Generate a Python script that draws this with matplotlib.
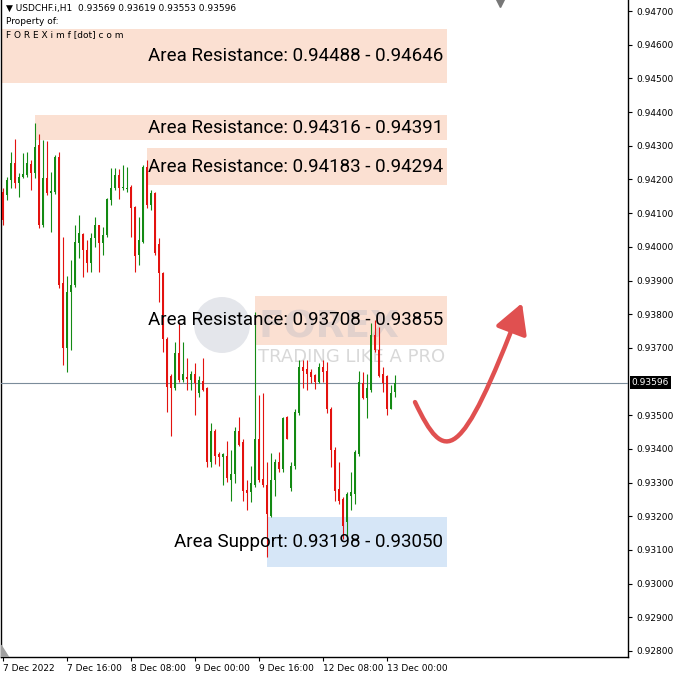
import matplotlib
matplotlib.use("Agg")
import matplotlib.pyplot as plt
from matplotlib.patches import Rectangle, FancyArrowPatch, Ellipse, ArrowStyle
from matplotlib.path import Path

# ---------------- data (USDCHF H1)
opens = [0.94163, 0.94154, 0.94199, 0.94249, 0.94190, 0.94208, 0.94214, 0.94246, 0.94220, 0.94303,
         0.94066, 0.94205, 0.94160, 0.94163, 0.94267, 0.93893, 0.93701, 0.93867, 0.93888, 0.94012,
         0.94039, 0.93991, 0.93953, 0.94027, 0.94066, 0.94012, 0.94036, 0.94140, 0.94175, 0.94214,
         0.94175, 0.94172, 0.94178, 0.94119, 0.93977, 0.94015, 0.94238, 0.94125, 0.94160, 0.94009,
         0.93923, 0.93725, 0.93615, 0.93582, 0.93686, 0.93606, 0.93612, 0.93606, 0.93621, 0.93567,
         0.93603, 0.93582, 0.93360, 0.93452, 0.93384, 0.93375, 0.93378, 0.93309, 0.93324, 0.93452,
         0.93419, 0.93277, 0.93271, 0.93294, 0.93428, 0.93312, 0.93294, 0.93200, 0.93309, 0.93360,
         0.93339, 0.93496, 0.93285, 0.93348, 0.93508, 0.93642, 0.93636, 0.93627, 0.93618, 0.93600,
         0.93642, 0.93630, 0.93517, 0.93398, 0.93280, 0.93250, 0.93182, 0.93259, 0.93265, 0.93384,
         0.93597, 0.93552, 0.93576, 0.93739, 0.93695, 0.93621, 0.93615, 0.93517, 0.93569]
highs = [0.94175, 0.94208, 0.94282, 0.94321, 0.94220, 0.94279, 0.94282, 0.94258, 0.94368, 0.94335,
         0.94318, 0.94315, 0.94223, 0.94273, 0.94282, 0.94030, 0.93914, 0.93962, 0.94066, 0.94095,
         0.94042, 0.94021, 0.94042, 0.94089, 0.94066, 0.94060, 0.94146, 0.94235, 0.94235, 0.94232,
         0.94244, 0.94238, 0.94184, 0.94122, 0.94089, 0.94244, 0.94258, 0.94169, 0.94163, 0.94027,
         0.93926, 0.93731, 0.93621, 0.93716, 0.93778, 0.93716, 0.93671, 0.93630, 0.93656, 0.93615,
         0.93671, 0.93585, 0.93478, 0.93458, 0.93392, 0.93389, 0.93422, 0.93398, 0.93464, 0.93496,
         0.93428, 0.93309, 0.93348, 0.93807, 0.93561, 0.93567, 0.93360, 0.93389, 0.93369, 0.93392,
         0.93496, 0.93499, 0.93360, 0.93517, 0.93665, 0.93665, 0.93665, 0.93636, 0.93621, 0.93656,
         0.93665, 0.93659, 0.93523, 0.93407, 0.93360, 0.93256, 0.93271, 0.93330, 0.93398, 0.93630,
         0.93627, 0.93621, 0.93775, 0.93784, 0.93763, 0.93642, 0.93618, 0.93591, 0.93619]
lows = [0.94066, 0.94140, 0.94175, 0.94175, 0.94148, 0.94205, 0.94208, 0.94169, 0.94205, 0.94057,
        0.94060, 0.94154, 0.94045, 0.94157, 0.93879, 0.93650, 0.93627, 0.93695, 0.93882, 0.93968,
        0.93911, 0.93926, 0.93926, 0.94000, 0.93926, 0.93977, 0.94030, 0.94125, 0.94169, 0.94143,
        0.94169, 0.94163, 0.94030, 0.93926, 0.93947, 0.94012, 0.94116, 0.94110, 0.93977, 0.93837,
        0.93689, 0.93511, 0.93437, 0.93576, 0.93600, 0.93600, 0.93576, 0.93576, 0.93502, 0.93555,
        0.93573, 0.93345, 0.93345, 0.93354, 0.93348, 0.93294, 0.93303, 0.93244, 0.93300, 0.93410,
        0.93244, 0.93220, 0.93241, 0.93288, 0.93303, 0.93288, 0.93080, 0.93197, 0.93259, 0.93330,
        0.93330, 0.93428, 0.93274, 0.93339, 0.93502, 0.93582, 0.93576, 0.93597, 0.93579, 0.93597,
        0.93600, 0.93508, 0.93345, 0.93244, 0.93235, 0.93131, 0.93131, 0.93220, 0.93235, 0.93378,
        0.93547, 0.93493, 0.93570, 0.93689, 0.93612, 0.93570, 0.93502, 0.93517, 0.93553]
closes = [0.94080, 0.94199, 0.94249, 0.94190, 0.94208, 0.94217, 0.94249, 0.94220, 0.94297, 0.94066,
          0.94205, 0.94160, 0.94166, 0.94267, 0.93888, 0.93701, 0.93867, 0.93888, 0.94015, 0.94042,
          0.93991, 0.93953, 0.94027, 0.94066, 0.94012, 0.94036, 0.94143, 0.94175, 0.94214, 0.94175,
          0.94178, 0.94175, 0.94116, 0.93974, 0.94021, 0.94238, 0.94125, 0.94160, 0.93982, 0.93923,
          0.93725, 0.93585, 0.93582, 0.93686, 0.93606, 0.93621, 0.93609, 0.93621, 0.93597, 0.93606,
          0.93576, 0.93360, 0.93452, 0.93378, 0.93375, 0.93384, 0.93315, 0.93324, 0.93452, 0.93413,
          0.93274, 0.93268, 0.93300, 0.93428, 0.93309, 0.93294, 0.93206, 0.93309, 0.93360, 0.93339,
          0.93493, 0.93428, 0.93348, 0.93511, 0.93642, 0.93630, 0.93621, 0.93612, 0.93600, 0.93642,
          0.93627, 0.93517, 0.93398, 0.93274, 0.93244, 0.93170, 0.93265, 0.93271, 0.93392, 0.93600,
          0.93552, 0.93582, 0.93739, 0.93695, 0.93615, 0.93597, 0.93517, 0.93567, 0.93596]

tick_bars = [0, 16, 32, 48, 64, 80, 96]
tick_labels = ["7 Dec 2022", "7 Dec 16:00", "8 Dec 08:00", "9 Dec 00:00",
               "9 Dec 16:00", "12 Dec 08:00", "13 Dec 00:00"]

# zones: low, high, bar where the box starts
zone_lo = [0.94488, 0.94316, 0.94183, 0.93708, 0.93050]
zone_hi = [0.94646, 0.94391, 0.94294, 0.93855, 0.93198]
zone_start = [-1, 8, 36, 63, 66]
zone_text = ["Area Resistance: 0.94488 - 0.94646",
             "Area Resistance: 0.94316 - 0.94391",
             "Area Resistance: 0.94183 - 0.94294",
             "Area Resistance: 0.93708 - 0.93855",
             "Area Support: 0.93198 - 0.93050"]
zone_kind = ["res", "res", "res", "res", "sup"]
zone_end = 111

last_price = 0.93596

# ---------------- figure
fig = plt.figure(figsize=(6.76, 6.74), dpi=100)
ax = fig.add_axes([1 / 676, 17 / 674, 627 / 676, 657 / 674])
ax.set_xlim(-0.5, 156.25)
ax.set_ylim(0.92782, 0.94733)

# zones
for lo, hi, st, txt, k in zip(zone_lo, zone_hi, zone_start, zone_text, zone_kind):
    col = "#fbe0d2" if k == "res" else "#d6e6f7"
    ax.add_patch(Rectangle((st, lo), zone_end - st, hi - lo, facecolor=col,
                           edgecolor="none", zorder=1))
    ax.text(110, (lo + hi) / 2, txt, ha="right", va="center", fontsize=13.5,
            family="Roboto", color="black", zorder=6)

# watermark (faint, over the zones, under candles and labels)
ax.add_patch(Ellipse((222 / 676, 1 - 325 / 674), 56 / 676, 56 / 674,
                     transform=fig.transFigure, facecolor="#b4b9c6", alpha=0.35,
                     edgecolor="none", zorder=2))
ax.text(258 / 676, 1 - 327 / 674, "FOREX", transform=fig.transFigure, fontsize=27,
        fontweight="bold", color="#a9afbf", alpha=0.3, va="center", ha="left", zorder=2)
ax.text(258 / 676, 1 - 357 / 674, "TRADING LIKE A PRO", transform=fig.transFigure,
        fontsize=13, color="#d8d8d8", va="center", ha="left", zorder=2)

# candles
for i in range(len(opens)):
    o, h, l, c = opens[i], highs[i], lows[i], closes[i]
    col = "#138a13" if c >= o else "#e3120f"
    ax.vlines(i, l, h, color=col, lw=0.8, zorder=4)
    body = max(abs(c - o), 0.00003)
    ax.bar(i, body, bottom=min(o, c), width=0.72, color=col, lw=0, zorder=4)

# current price line
ax.axhline(last_price, color="#7b8c9a", lw=0.8, zorder=3)

# red arrow
verts = [(103, 0.93539), (110.5, 0.93352), (114.25, 0.93352), (129.75, 0.93833)]
codes = [Path.MOVETO, Path.CURVE4, Path.CURVE4, Path.CURVE4]
arr = FancyArrowPatch(path=Path(verts, codes),
                      arrowstyle=ArrowStyle("-|>", head_length=0.9, head_width=0.5),
                      mutation_scale=20, color="#e05050", lw=3.2, zorder=7)
ax.add_patch(arr)

# axes
ax.spines["top"].set_visible(False)
for s in ["left", "right", "bottom"]:
    ax.spines[s].set_linewidth(1.0)
ax.yaxis.tick_right()
yt = [0.928 + 0.001 * k for k in range(20) if k != 8]
ax.set_yticks(yt)
ax.set_yticklabels(["%.5f" % v for v in yt])
ax.tick_params(axis="y", length=3, width=0.8, pad=3, labelsize=6.5)
ax.set_xticks(tick_bars)
ax.set_xticklabels(tick_labels, ha="left")
ax.tick_params(axis="x", length=3, width=0.8, pad=2, labelsize=6.5)

# price label
ax.text(1.006, last_price, "%.5f" % last_price, transform=ax.get_yaxis_transform(),
        ha="left", va="center", fontsize=6.5, color="white",
        bbox=dict(facecolor="black", edgecolor="none", pad=1.5), clip_on=False)

# header
fig.text(6 / 676, 1 - 8 / 674, "\u25bc USDCHF.i,H1  0.93569 0.93619 0.93553 0.93596",
         fontsize=6.5, va="center")
fig.text(6 / 676, 1 - 22 / 674, "Property of:", fontsize=6.5, va="center")
fig.text(6 / 676, 1 - 35 / 674, "F O R E X i m f [dot] c o m", fontsize=6.5, va="center")

# small chart markers
ax.plot([124.25], [0.94725], marker="v", color="#777777", ms=6, clip_on=False, zorder=8)
ax.fill([0, 0.012, 0], [0, 0, 0.018], transform=ax.transAxes, color="#a0a0a0", zorder=8)

fig.savefig("out.png", dpi=100)
